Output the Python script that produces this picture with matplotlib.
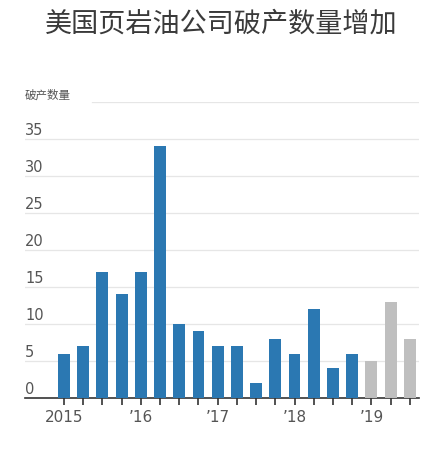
import numpy as np
import matplotlib
matplotlib.use("Agg")
import matplotlib.pyplot as plt

plt.rcParams['font.family'] = ['Noto Sans CJK SC', 'DejaVu Sans']

# 每季度破产数量 (2015Q1 起)
actual = [6, 7, 17, 14, 17, 34, 10, 9, 7, 7, 2, 8, 6, 12, 4, 6]
recent = [5, 13, 8]          # 2019 年，灰色
year_labels = ["2015", "’16", "’17", "’18", "’19"]
year_pos = [0, 4, 8, 12, 16]
yticks = [0, 5, 10, 15, 20, 25, 30, 35]

BLUE = "#2b78b2"
GRAY = "#bfbfbf"
TXT = "#555555"

fig = plt.figure(figsize=(4.39, 4.5), dpi=100)
ax = fig.add_axes([0.057, 0.1156, 0.897, 0.6577])

n1 = len(actual)
x1 = np.arange(n1)
x2 = np.arange(n1, n1 + len(recent))
ax.bar(x1, actual, width=0.62, color=BLUE, zorder=3)
ax.bar(x2, recent, width=0.62, color=GRAY, zorder=3)

ax.set_xlim(-2.03, x2[-1] + 0.47)
ax.set_ylim(0, 40)

# 网格线 + 左侧数值
for v in yticks[1:]:
    ax.axhline(v, color="#e6e6e6", lw=0.9, zorder=1)
for v in yticks:
    ax.text(0.0, v + 0.15, str(v), transform=ax.get_yaxis_transform(),
            ha="left", va="bottom", fontsize=10.5, color=TXT,
            family=["DejaVu Sans"])
ax.axhline(40, xmin=0.17, color="#e6e6e6", lw=0.9, zorder=1)
ax.text(0.0, 40.1, "破产数量", transform=ax.get_yaxis_transform(),
        ha="left", va="bottom", fontsize=8.3, color=TXT)

for s in ["top", "right", "left"]:
    ax.spines[s].set_visible(False)
ax.spines["bottom"].set_color("#333333")
ax.spines["bottom"].set_linewidth(1.2)
ax.set_yticks([])

xall = np.arange(n1 + len(recent))
ax.set_xticks(xall)
ax.set_xticklabels([""] * len(xall))
ax.tick_params(axis="x", direction="out", length=5, width=1.2, color="#333333")
for p, lab in zip(year_pos, year_labels):
    ax.text(p, -1.6, lab, ha="center", va="top", fontsize=11, color=TXT,
            family=["DejaVu Sans"])

fig.text(0.503, 0.947, "美国页岩油公司破产数量增加", ha="center", va="center",
         fontsize=19.5, color="#3a3a3a", fontweight="light")

fig.savefig("out.png", dpi=100, facecolor="white")
